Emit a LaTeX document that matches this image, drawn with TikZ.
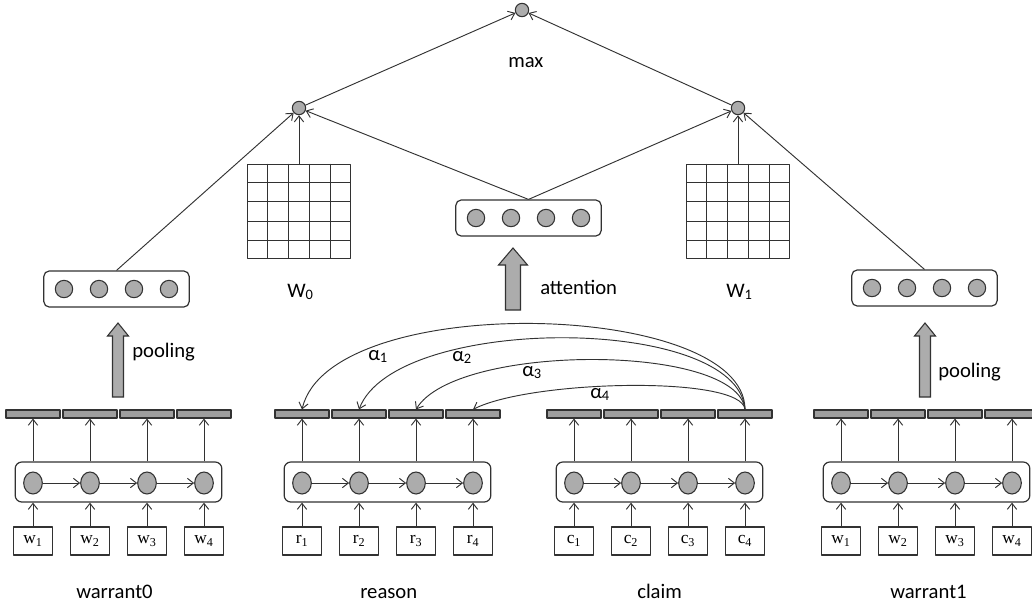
\documentclass[tikz,border=0pt]{standalone}
\usepackage{fontspec}
\setmainfont{Carlito}
\newfontfamily\serifw{Liberation Serif}
\usetikzlibrary{arrows.meta,shapes.geometric,calc}
\definecolor{ln}{RGB}{50,50,50}
\definecolor{cfill}{RGB}{172,172,172}
\definecolor{bfill}{RGB}{158,158,158}
\newcommand\fatarr[6]{% x, tip y, bottom y, shaft w, head w, head h
  \draw[draw=ln, line width=0.8pt, fill=cfill, line join=miter]
    ({#1-#4/2},#3) -- ({#1-#4/2},{#2+#6}) -- ({#1-#5/2},{#2+#6}) -- (#1,#2)
    -- ({#1+#5/2},{#2+#6}) -- ({#1+#4/2},{#2+#6}) -- ({#1+#4/2},#3) -- cycle;}
\begin{document}
\begin{tikzpicture}[x=0.75pt,y=-0.75pt, line join=round,
  >={Straight Barb[length=4.5pt,width=7pt]},
  conn/.style={draw=ln, line width=0.7pt},
  topc/.style={circle, draw=ln, line width=0.8pt, fill=cfill, minimum size=10pt, inner sep=0pt},
  vc/.style={circle, draw=ln, line width=0.8pt, fill=cfill, minimum size=13pt, inner sep=0pt},
  vbox/.style={rectangle, rounded corners=4pt, draw=ln, line width=0.9pt, minimum width=109pt, minimum height=27pt, inner sep=0pt},
  mat/.style={rectangle, draw=ln, line width=0.8pt, minimum width=77pt, minimum height=71pt, inner sep=0pt},
  lstm/.style={rectangle, rounded corners=5pt, draw=ln, line width=0.9pt, minimum width=155pt, minimum height=30pt, inner sep=0pt},
  hc/.style={ellipse, draw=ln, line width=0.8pt, fill=cfill, minimum width=14pt, minimum height=16.5pt, inner sep=0pt},
  bar/.style={rectangle, draw=ln, line width=0.8pt, fill=bfill, minimum width=40.5pt, minimum height=6pt, inner sep=0pt},
  word/.style={rectangle, draw=ln, line width=0.8pt, fill=white, minimum width=29pt, minimum height=21pt, inner sep=0pt, font=\serifw\fontsize{13}{15}\selectfont},
  lbl/.style={font=\fontsize{15.5}{18}\selectfont, inner sep=0pt, anchor=base west},
]
\clip (0,0) rectangle (1032,608);
\fill[white] (0,0) rectangle (1032,608);

% top
\node[topc] (T) at (522,10) {};
\node[topc] (L) at (299,108) {};
\node[topc] (R) at (738,108) {};
\node[lbl] (maxl) at (508,67) {max};
\draw[conn,->] (L) -- (T);
\draw[conn,->] (R) -- (T);

% matrices
\foreach \m/\xc/\wl in {W0/299/0, W1/738/1}{
  \node[mat] (\m) at (\xc,211.5) {};
  \foreach \k in {1,...,4}{
    \draw[ln, line width=0.8pt] ($(\m.north west)!\k/5!(\m.north east)$) -- ($(\m.south west)!\k/5!(\m.south east)$);
    \draw[ln, line width=0.8pt] ($(\m.north west)!\k/5!(\m.south west)$) -- ($(\m.north east)!\k/5!(\m.south east)$);
  }
  \node[lbl] (\m lab) at (\xc-12,297) {W\textsubscript{\wl}};
}
\draw[conn,->] (W0) -- (L);
\draw[conn,->] (W1) -- (R);

% vector boxes
\node[vbox] (lp) at (116.5,289) {};
\node[vbox] (att) at (528.5,218) {};
\node[vbox] (rp) at (924.5,288) {};
\foreach \b in {lp,att,rp}{
  \foreach \k/\dx in {1/-52.5,2/-17.5,3/17.5,4/52.5}{
    \node[vc] (\b c\k) at ($(\b)+(\dx,0)$) {};
  }
}
\draw[conn,->] (lp.north) -- (L);
\draw[conn,->] (att.north) -- (L);
\draw[conn,->] (att.north) -- (R);
\draw[conn,->] (rp.north) -- (R);

% fat arrows
\fatarr{118}{323}{397}{11}{21}{13}
\fatarr{925}{323}{397}{11}{21}{13}
\fatarr{513}{248}{310}{15}{29}{17}
\node[lbl] (pl1) at (132,357) {pooling};
\node[lbl] (attl) at (540,294) {attention};
\node[lbl] (pl2) at (938,377) {pooling};

% bottom groups
\foreach \g/\xo/\wl/\nm/\lx in {A/33/w/warrant0/76, B/302/r/reason/360, C/574/c/claim/637, D/841/w/warrant1/890}{
  \node[lstm] (\g box) at (\xo+85.5,482) {};
  \foreach \i in {1,...,4}{
    \node[hc] (\g h\i) at ({\xo+(\i-1)*57},483) {};
    \node[bar] (\g b\i) at ({\xo+(\i-1)*57},414) {};
    \node[word] (\g w\i) at ({\xo+(\i-1)*57},541) {\wl\textsubscript{\i}};
    \draw[conn,->] (\g h\i |- \g box.north) -- (\g b\i);
    \draw[conn,->] (\g w\i) -- (\g h\i |- \g box.south);
  }
  \foreach \i/\j in {1/2,2/3,3/4}{
    \draw[conn,->] (\g h\i) -- (\g h\j);
  }
  \node[lbl] (\g lab) at (\lx,598) {\nm};
}

% attention arcs
\draw[conn,->] (Cb4.north) .. controls (745,300) and (330,290) .. (Bb1.north);
\draw[conn,->] (Cb4.north) .. controls (738,314) and (395,314) .. (Bb2.north);
\draw[conn,->] (Cb4.north) .. controls (738,343) and (456,343) .. (Bb3.north);
\draw[conn,->] (Cb4.north) .. controls (742,375) and (530,380) .. (Bb4.north);
\node[lbl] (a1) at (368,360) {α\textsubscript{1}};
\node[lbl] (a2) at (452,361) {α\textsubscript{2}};
\node[lbl] (a3) at (522,376) {α\textsubscript{3}};
\node[lbl] (a4) at (590,398) {α\textsubscript{4}};
\end{tikzpicture}
\end{document}
